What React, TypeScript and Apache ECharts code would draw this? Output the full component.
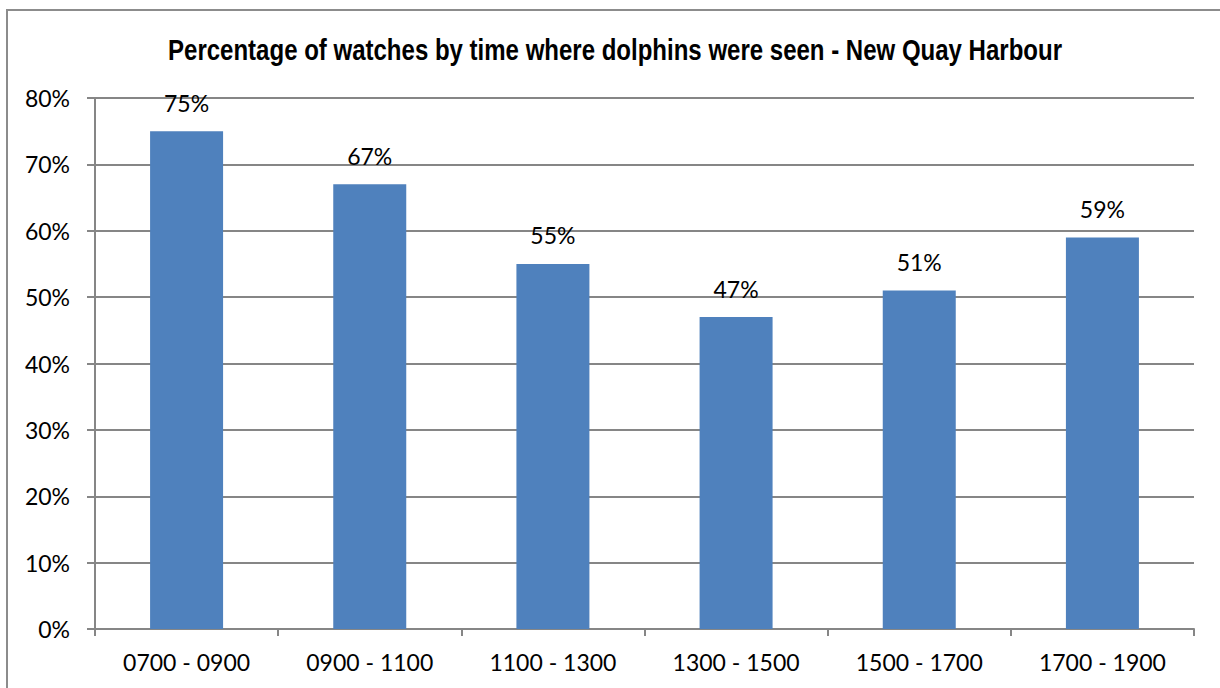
import React, { useEffect, useRef } from "react";
import * as echarts from "echarts";

const categories = ["0700 - 0900", "0900 - 1100", "1100 - 1300", "1300 - 1500", "1500 - 1700", "1700 - 1900"];
const values = [75, 67, 55, 47, 51, 59];
const titleText = "Percentage of watches by time where dolphins were seen - New Quay Harbour";

export default function App() {
  const ref = useRef<HTMLDivElement>(null);
  useEffect(() => {
    const chart = echarts.init(ref.current!, null, { renderer: "svg" });
    const labelFont = "Lato, 'Open Sans', sans-serif";
    const titleFont = "bold 30px 'Liberation Sans', Arial, sans-serif";
    let scaleX = 0.78;
    try {
      const c = document.createElement("canvas");
      const ctx = c.getContext("2d")!;
      ctx.font = titleFont;
      const w = ctx.measureText(titleText).width;
      if (w > 0) scaleX = 895 / w;
    } catch (e) {}
    chart.setOption({
      animation: false,
      backgroundColor: "#ffffff",
      graphic: [
        {
          type: "rect",
          shape: { x: 7, y: 10, width: 1240, height: 700 },
          style: { fill: "none", stroke: "#8c8c8c", lineWidth: 2 },
          silent: true,
        },
        {
          type: "text",
          x: 615,
          y: 50,
          scaleX: scaleX,
          scaleY: 1,
          style: {
            text: titleText,
            fontFamily: "'Liberation Sans', Arial, sans-serif",
            fontWeight: "bold",
            fontSize: 30,
            fill: "#000",
            align: "center",
            verticalAlign: "middle",
          },
          silent: true,
        },
      ],
      grid: { left: 95, right: 26, top: 98, bottom: 59, containLabel: false },
      xAxis: {
        type: "category",
        data: categories,
        boundaryGap: true,
        axisLine: { lineStyle: { color: "#868686", width: 2 } },
        axisTick: { show: true, length: 7, alignWithLabel: false, lineStyle: { color: "#868686", width: 2 } },
        axisLabel: { color: "#000", fontFamily: labelFont, fontSize: 23, margin: 21 },
      },
      yAxis: {
        type: "value",
        min: 0,
        max: 80,
        interval: 10,
        axisLine: { show: true, lineStyle: { color: "#868686", width: 2 } },
        axisTick: { show: true, length: 8, lineStyle: { color: "#868686", width: 2 } },
        axisLabel: { color: "#000", fontFamily: labelFont, fontSize: 23, margin: 25, formatter: "{value}%" },
        splitLine: { show: true, lineStyle: { color: "#868686", width: 2 } },
      },
      series: [
        {
          type: "bar",
          data: values,
          barWidth: 73,
          itemStyle: { color: "#4F81BD" },
          label: {
            show: true,
            position: "top",
            distance: 17,
            formatter: "{c}%",
            color: "#000",
            fontFamily: labelFont,
            fontSize: 23,
          },
        },
      ],
    });
    return () => chart.dispose();
  }, []);
  return <div ref={ref} style={{ position: "absolute", left: 0, top: 0, width: 1220, height: 688 }} />;
}
